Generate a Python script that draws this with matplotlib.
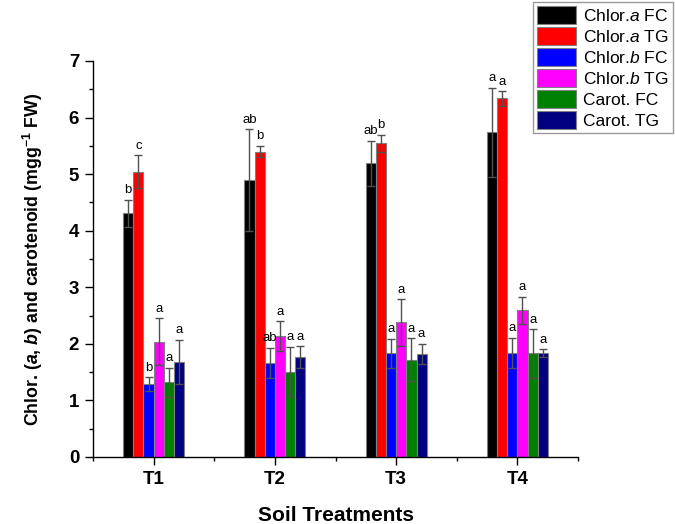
import numpy as np
import matplotlib
matplotlib.use('Agg')
from matplotlib import pyplot
from matplotlib.ticker import MultipleLocator

treatments = ["T1", "T2", "T3", "T4"]
series_names = [r"Chlor.$\it{a}$ FC", r"Chlor.$\it{a}$ TG", r"Chlor.$\it{b}$ FC",
                r"Chlor.$\it{b}$ TG", "Carot. FC", "Carot. TG"]
colors = ["#000000", "#ff0000", "#0000ff", "#ff00ff", "#008000", "#000080"]

chlor_a_fc = [4.31, 4.89, 5.19, 5.74]
chlor_a_tg = [5.04, 5.40, 5.55, 6.34]
chlor_b_fc = [1.29, 1.66, 1.83, 1.84]
chlor_b_tg = [2.04, 2.14, 2.38, 2.59]
carot_fc = [1.32, 1.51, 1.72, 1.83]
carot_tg = [1.68, 1.77, 1.82, 1.83]

chlor_a_fc_err = [0.24, 0.90, 0.40, 0.79]
chlor_a_tg_err = [0.29, 0.10, 0.15, 0.13]
chlor_b_fc_err = [0.12, 0.27, 0.26, 0.27]
chlor_b_tg_err = [0.41, 0.26, 0.41, 0.24]
carot_fc_err = [0.26, 0.44, 0.38, 0.43]
carot_tg_err = [0.39, 0.19, 0.18, 0.07]

chlor_a_fc_sig = ["b", "ab", "ab", "a"]
chlor_a_tg_sig = ["c", "b", "b", "a"]
chlor_b_fc_sig = ["b", "ab", "a", "a"]
chlor_b_tg_sig = ["a", "a", "a", "a"]
carot_fc_sig = ["a", "a", "a", "a"]
carot_tg_sig = ["a", "a", "a", "a"]

values = [chlor_a_fc, chlor_a_tg, chlor_b_fc, chlor_b_tg, carot_fc, carot_tg]
errors = [chlor_a_fc_err, chlor_a_tg_err, chlor_b_fc_err, chlor_b_tg_err, carot_fc_err, carot_tg_err]
letters = [chlor_a_fc_sig, chlor_a_tg_sig, chlor_b_fc_sig, chlor_b_tg_sig, carot_fc_sig, carot_tg_sig]

pyplot.rcParams['font.family'] = ['Liberation Sans', 'DejaVu Sans']
pyplot.rcParams['mathtext.fontset'] = 'custom'
pyplot.rcParams['mathtext.rm'] = 'Liberation Sans'
pyplot.rcParams['mathtext.it'] = 'Liberation Sans:italic'
pyplot.rcParams['mathtext.bf'] = 'Liberation Sans:bold'
pyplot.rcParams['mathtext.bfit'] = 'Liberation Sans:bold:italic'

fig = pyplot.figure(figsize=(6.75, 5.24), dpi=100)
ax = fig.add_axes([0.1378, 0.1279, 0.7185, 0.7557])

x = np.arange(1, len(treatments) + 1)
width = 0.084
offsets = (np.arange(6) - 2.5) * width

for i in range(6):
    xs = x + offsets[i]
    ax.bar(xs, values[i], width, color=colors[i], edgecolor='#808080',
           linewidth=0.8, label=series_names[i], zorder=2)
    ax.errorbar(xs, values[i], yerr=errors[i], fmt='none', ecolor='#505050',
                elinewidth=1, capsize=3, capthick=1, zorder=3)
    for xi, v, e, t in zip(xs, values[i], errors[i], letters[i]):
        ax.text(xi, v + e + 0.06, t, ha='center', va='bottom', fontsize=9.5)

ax.set_xlim(0.5, 4.5)
ax.set_ylim(0, 7)
ax.set_xticks(x)
ax.set_xticklabels(treatments)
ax.set_xticks(np.arange(0.5, 4.6, 1.0), minor=True)
ax.yaxis.set_major_locator(MultipleLocator(1))
ax.yaxis.set_minor_locator(MultipleLocator(0.5))
ax.tick_params(axis='both', which='major', direction='out', length=6, width=1,
               labelsize=13.5, pad=4)
ax.tick_params(axis='both', which='minor', direction='out', length=3, width=1)
for lab in ax.get_xticklabels() + ax.get_yticklabels():
    lab.set_fontweight('bold')

ax.spines['top'].set_visible(False)
ax.spines['right'].set_visible(False)
ax.spines['left'].set_linewidth(1)
ax.spines['bottom'].set_linewidth(1)

ax.set_xlabel('Soil Treatments', fontsize=15, fontweight='bold', labelpad=13)
ax.set_ylabel(r'Chlor. ($\mathbfit{a}$, $\mathbfit{b}$) and carotenoid (mgg$^{\mathbf{-1}}$ FW)',
              fontsize=12.8, fontweight='bold', labelpad=17)

leg = fig.legend(loc='upper right', bbox_to_anchor=(0.997, 0.996), fontsize=12.5,
                 frameon=True, fancybox=False, edgecolor='#808080',
                 handlelength=2.25, handleheight=1.15, handletextpad=0.4,
                 labelspacing=0.2, borderpad=0.25, borderaxespad=0)
leg.get_frame().set_linewidth(1)

pyplot.savefig('out.png', dpi=100)
